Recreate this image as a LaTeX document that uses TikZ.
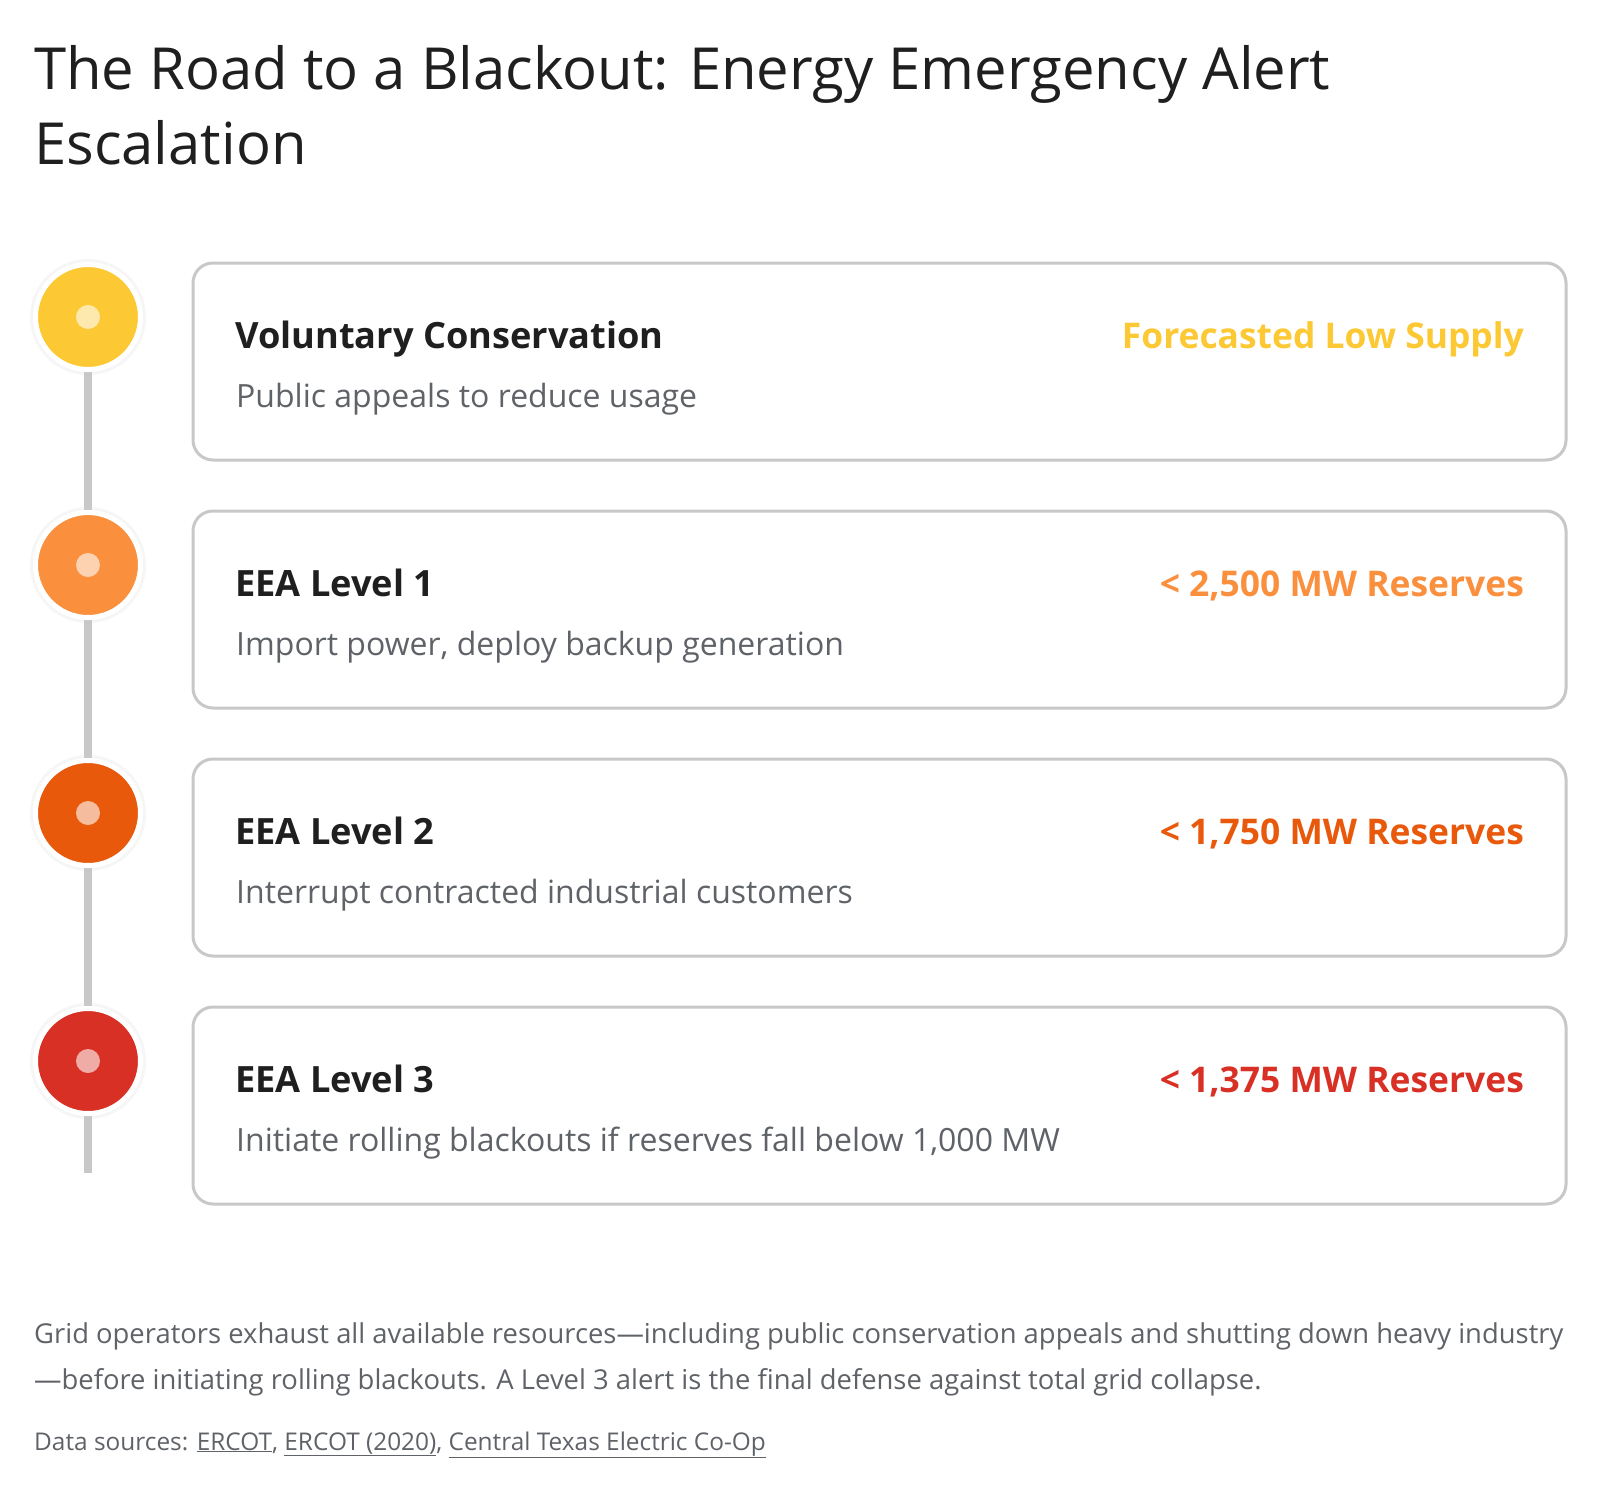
\documentclass[tikz,border=0pt]{standalone}
\usepackage{fontspec}
\setmainfont{Open Sans}
\definecolor{titlec}{HTML}{1F1F1F}
\definecolor{subc}{HTML}{5F6368}
\definecolor{borderc}{HTML}{C8C8C8}
\definecolor{lvA}{HTML}{FCC934}
\definecolor{lvB}{HTML}{FA903E}
\definecolor{lvC}{HTML}{E8590C}
\definecolor{lvD}{HTML}{D93025}
\begin{document}
\begin{tikzpicture}[x=1pt,y=-1pt,
  titletext/.style={anchor=base west,inner sep=0pt,text=titlec,font=\fontsize{58}{70}\selectfont},
  cardbox/.style={draw=borderc,line width=3pt,rounded corners=20pt,fill=white},
  cardtitle/.style={anchor=base west,inner sep=0pt,text=titlec,font=\fontsize{36.2}{44}\selectfont\bfseries},
  cardsub/.style={anchor=base west,inner sep=0pt,text=subc,font=\fontsize{32}{38}\selectfont},
  cardtag/.style={anchor=base east,inner sep=0pt,font=\fontsize{35.4}{40}\selectfont\bfseries},
  dotnode/.style={circle,minimum size=105pt,inner sep=0pt,draw=white,line width=5pt},
  halo/.style={circle,minimum size=116pt,inner sep=0pt,fill=black,fill opacity=0.035},
  innerdot/.style={circle,minimum size=24pt,inner sep=0pt,fill=white,fill opacity=0.6},
  track/.style={draw=borderc,line width=8pt},
  foot/.style={anchor=base west,inner sep=0pt,text=subc,font=\fontsize{27.4}{32}\selectfont},
  srcs/.style={anchor=base west,inner sep=0pt,text=subc,font=\fontsize{24.4}{28}\selectfont}
]
\path[fill=white] (0,0) rectangle (1600,1490);
\useasboundingbox (0,0) rectangle (1600,1490);

\node[titletext] (t1) at (34,90) {The Road to a Blackout: Energy Emergency Alert};
\node[titletext] (t2) at (34,165) {Escalation};

% cards
\foreach \i/\tt/\st/\tg/\cc in {
  0/{Voluntary Conservation}/{Public appeals to reduce usage}/{Forecasted Low Supply}/lvA,
  1/{EEA Level 1}/{Import power, deploy backup generation}/{< 2,500 MW Reserves}/lvB,
  2/{EEA Level 2}/{Interrupt contracted industrial customers}/{< 1,750 MW Reserves}/lvC,
  3/{EEA Level 3}/{Initiate rolling blackouts if reserves fall below 1,000 MW}/{< 1,375 MW Reserves}/lvD}{
  \pgfmathsetmacro{\yt}{263+248*\i}
  \draw[cardbox] (193,\yt) rectangle (1566,\yt+197);
  \node[cardtitle] (ct\i) at (235,\yt+85) {\tt};
  \node[cardsub] (cs\i) at (236,\yt+144) {\st};
  \node[cardtag,text=\cc] (cg\i) at (1524,\yt+85) {\tg};
}

% timeline
\coordinate (tend) at (88,1173);
\foreach \i/\yy in {0/317,1/565,2/813,3/1061}{
  \node[halo] (h\i) at (88,\yy) {};
}
\node[dotnode,fill=lvA] (c0) at (88,317) {};
\node[dotnode,fill=lvB] (c1) at (88,565) {};
\node[dotnode,fill=lvC] (c2) at (88,813) {};
\node[dotnode,fill=lvD] (c3) at (88,1061) {};
\draw[track] (c0) -- (c1);
\draw[track] (c1) -- (c2);
\draw[track] (c2) -- (c3);
\draw[track] (c3.south) -- (tend);
\foreach \i in {0,1,2,3}{
  \node[innerdot] (d\i) at (c\i) {};
}

% footer
\node[foot] (f1) at (34,1343) {Grid operators exhaust all available resources—including public conservation appeals and shutting down heavy industry};
\node[foot] (f2) at (34,1389) {—before initiating rolling blackouts. A Level 3 alert is the final defense against total grid collapse.};
\node[srcs] (f3) at (34,1450) {Data sources: \underline{ERCOT}, \underline{ERCOT (2020)}, \underline{Central Texas Electric Co-Op}};
\end{tikzpicture}
\end{document}
